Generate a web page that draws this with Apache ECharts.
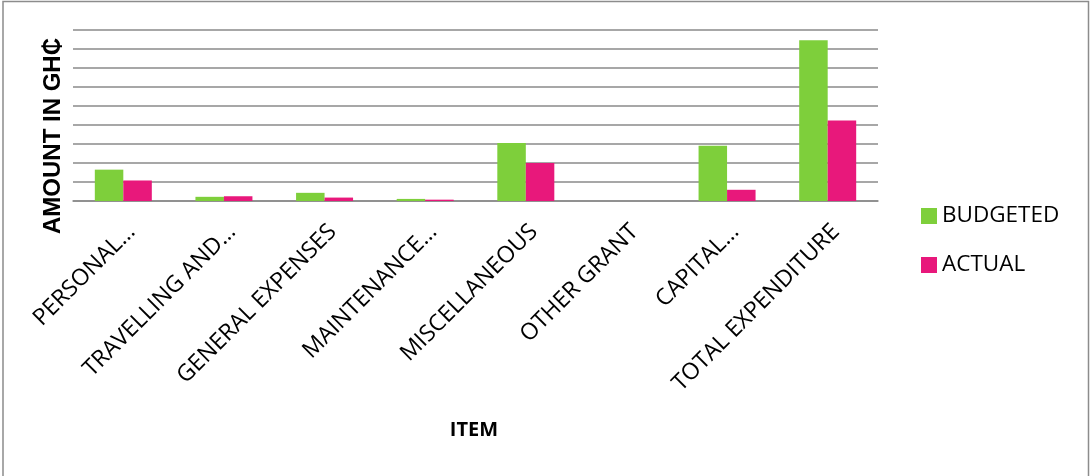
<!DOCTYPE html>
<html>
<head>
<meta charset="utf-8">
<script src="https://cdn.jsdelivr.net/npm/echarts@6/dist/echarts.min.js"></script>
<style>
  html, body { margin: 0; padding: 0; background: #ffffff; }
  #chart { width: 1090px; height: 476px; }
</style>
</head>
<body>
<div id="chart"></div>
<script>
// Expenditure items (labels as shown on the axis)
const categories = [
  'PERSONAL…',
  'TRAVELLING AND…',
  'GENERAL EXPENSES',
  'MAINTENANCE…',
  'MISCELLANEOUS',
  'OTHER GRANT',
  'CAPITAL…',
  'TOTAL EXPENDITURE'
];

// Amounts, in gridline units
const budgeted = [1.65, 0.22, 0.43, 0.11, 3.05, 0, 2.91, 8.46];
const actual   = [1.08, 0.25, 0.18, 0.07, 2.00, 0, 0.59, 4.24];

const seriesNames = ['BUDGETED', 'ACTUAL'];
const yTitle = 'AMOUNT IN GH₵';
const xTitle = 'ITEM';

const GREEN = '#7ecf3b';
const PINK = '#e8187b';
const GRID_GRAY = '#8a8a8a';
const FONT = '"Open Sans", "Liberation Sans", sans-serif';

const chart = echarts.init(document.getElementById('chart'), null, { renderer: 'canvas' });

chart.setOption({
  animation: false,
  backgroundColor: '#ffffff',
  grid: { left: 73, right: 212, top: 30, bottom: 275, containLabel: false },
  legend: {
    orient: 'vertical',
    left: 916,
    top: 197,
    icon: 'rect',
    itemWidth: 16,
    itemHeight: 16,
    itemGap: 21,
    data: seriesNames,
    textStyle: { fontFamily: FONT, fontSize: 22.5, color: '#000000', lineHeight: 28, padding: [0, 0, 0, 0] }
  },
  xAxis: {
    type: 'category',
    data: categories,
    axisLine: { show: true, lineStyle: { color: GRID_GRAY, width: 1.5 } },
    axisTick: { show: false },
    axisLabel: {
      interval: 0,
      rotate: 45,
      margin: 19,
      verticalAlign: 'top',
      fontFamily: FONT,
      fontSize: 23,
      color: '#000000'
    }
  },
  yAxis: {
    type: 'value',
    min: 0,
    max: 9,
    interval: 1,
    axisLine: { show: false },
    axisTick: { show: false },
    axisLabel: { show: false },
    splitLine: { show: true, lineStyle: { color: GRID_GRAY, width: 1.5 } }
  },
  graphic: [
    {
      type: 'rect',
      shape: { x: 3, y: 1.5, width: 1085.5, height: 490 },
      style: { fill: 'none', stroke: '#8c8c8c', lineWidth: 1.5 },
      silent: true
    },
    {
      type: 'text',
      x: 53,
      y: 136,
      rotation: Math.PI / 2,
      style: {
        text: yTitle,
        font: 'bold 24px "Liberation Sans", "DejaVu Sans", sans-serif',
        fill: '#000000',
        textAlign: 'center',
        textVerticalAlign: 'middle'
      }
    },
    {
      type: 'text',
      x: 474,
      y: 430,
      style: {
        text: xTitle,
        font: 'bold 20px "Open Sans", sans-serif',
        fill: '#000000',
        textAlign: 'center',
        textVerticalAlign: 'middle'
      }
    }
  ],
  series: [
    {
      name: seriesNames[0],
      type: 'bar',
      data: budgeted,
      barWidth: 28.5,
      barGap: '0%',
      itemStyle: { color: GREEN }
    },
    {
      name: seriesNames[1],
      type: 'bar',
      data: actual,
      barWidth: 28.5,
      barGap: '0%',
      itemStyle: { color: PINK }
    }
  ]
});
</script>
</body>
</html>
